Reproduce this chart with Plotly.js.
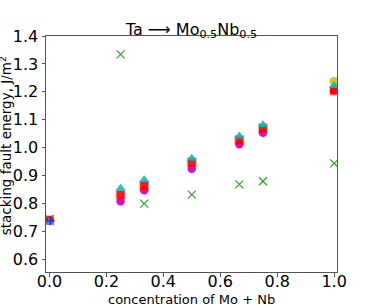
<!DOCTYPE html>
<html><head><meta charset="utf-8">
<script src="https://cdn.plot.ly/plotly-3.0.1.min.js"></script>
<style>html,body{margin:0;padding:0;background:#fff}#c{width:374px;height:305px}</style>
</head><body><div id="c"></div>
<script>
const xMag = [0, 0.25, 0.333, 0.5, 0.667, 0.75, 1.0];
const yMag = [0.74, 0.808, 0.848, 0.925, 1.012, 1.054, 1.205];
const xRed = [0, 0.25, 0.333, 0.5, 0.667, 0.75, 1.0];
const yRed = [0.74, 0.832, 0.864, 0.948, 1.028, 1.07, 1.205];
const xCyan = [0, 0.25, 0.333, 0.5, 0.667, 0.75, 1.0];
const yCyan = [0.733, 0.855, 0.885, 0.962, 1.042, 1.082, 1.222];
const xOlive = [0, 1.0];
const yOlive = [0.74, 1.237];
const xGreen = [0, 0.25, 0.333, 0.5, 0.667, 0.75, 1.0];
const yGreen = [0.745, 1.334, 0.80, 0.832, 0.869, 0.88, 0.944];
const xBlue = [0.004];
const yBlue = [0.738];
const xTicks = [0, 0.2, 0.4, 0.6, 0.8, 1.0];
const xTickText = ['0.0','0.2','0.4','0.6','0.8','1.0'];
const yTicks = [0.6,0.7,0.8,0.9,1.0,1.1,1.2,1.3,1.4];
const yTickText = ['0.6','0.7','0.8','0.9','1.0','1.1','1.2','1.3','1.4'];
const titleText = 'Ta ⟶ Mo<sub>0.5</sub>Nb<sub>0.5</sub>';
const xTitle = 'concentration of Mo + Nb';
const yTitle = 'stacking fault energy, J/m<sup>2</sup>';

const traces = [
  {x:xOlive,y:yOlive,mode:'markers',marker:{symbol:'circle',size:9,color:'rgba(191,191,0,0.85)'}},
  {x:xMag,y:yMag,mode:'markers',marker:{symbol:'circle',size:8.5,color:'rgba(191,0,191,0.9)'}},
  {x:xRed,y:yRed,mode:'markers',marker:{symbol:'square',size:8,color:'rgba(255,0,0,0.9)',line:{color:'rgba(255,0,0,0.3)',width:2}}},
  {x:xCyan,y:yCyan,mode:'markers',marker:{symbol:'triangle-up',size:9,color:'rgba(0,191,191,0.9)'}},
  {x:xGreen,y:yGreen,mode:'markers',marker:{symbol:'x-thin',size:8,line:{color:'#2ca02c',width:1.2},color:'#2ca02c'}},
  {x:xBlue,y:yBlue,mode:'markers',marker:{symbol:'cross-thin',size:6,line:{color:'#1f1fff',width:1.3},color:'#1f1fff'}}
];
const layout = {
  width:374,height:305,showlegend:false,
  paper_bgcolor:'#fff',plot_bgcolor:'#fff',
  margin:{l:46,r:37,t:36,b:33},
  font:{family:'DejaVu Sans',color:'#000'},
  title:{text:titleText,font:{size:16,family:'DejaVu Sans',color:'#000'},x:0.512,xanchor:'center',yref:'container',y:0.886,yanchor:'bottom'},
  xaxis:{range:[-0.012,1.01],tickvals:xTicks,ticktext:xTickText,tickfont:{size:16},
    showgrid:false,zeroline:false,showline:true,mirror:true,linecolor:'#555',linewidth:1,
    ticks:'outside',ticklen:3.5,tickcolor:'#555',ticklabelstandoff:-9,automargin:false},
  yaxis:{range:[0.555,1.4],tickvals:yTicks,ticktext:yTickText,tickfont:{size:16},
    showgrid:false,zeroline:false,showline:true,mirror:true,linecolor:'#555',linewidth:1,
    ticks:'outside',ticklen:3.5,tickcolor:'#555',automargin:false},
  annotations:[
    {text:xTitle,xref:'paper',yref:'paper',x:0.5,y:-0.118,xanchor:'center',yanchor:'middle',showarrow:false,font:{size:13}},
    {text:yTitle,xref:'paper',yref:'paper',x:-0.139,y:0.535,xanchor:'center',yanchor:'middle',textangle:-90,showarrow:false,font:{size:13.5}}
  ]
};
Plotly.newPlot('c',traces,layout,{displayModeBar:false,staticPlot:true});
</script></body></html>
